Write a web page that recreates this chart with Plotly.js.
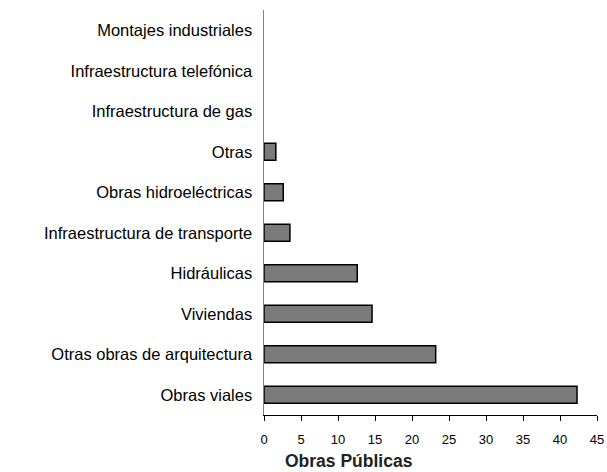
<!DOCTYPE html>
<html>
<head>
<meta charset="utf-8">
<script src="https://cdn.plot.ly/plotly-3.0.1.min.js"></script>
<style>
  body { margin: 0; background: #fff; }
  #myPlot { width: 607px; height: 472px; }
</style>
</head>
<body>
<div id="myPlot"></div>
<script>
// categories, bottom to top
const categories = [
  "Obras viales",
  "Otras obras de arquitectura",
  "Viviendas",
  "Hidráulicas",
  "Infraestructura de transporte",
  "Obras hidroeléctricas",
  "Otras",
  "Infraestructura de gas",
  "Infraestructura telefónica",
  "Montajes industriales"
];
const values = [42.3, 23.2, 14.6, 12.6, 3.5, 2.6, 1.6, 0, 0, 0];
const xTicks = [0, 5, 10, 15, 20, 25, 30, 35, 40, 45];

// no outline on empty bars
const outlineWidths = values.map(v => v > 0 ? 1.5 : 0);

const data = [{
  type: "bar",
  orientation: "h",
  x: values,
  y: categories,
  marker: {color: "#7b7b7b", line: {color: "#000", width: outlineWidths}},
  hoverinfo: "none"
}];

const layout = {
  width: 607,
  height: 472,
  margin: {l: 264, r: 10, t: 10, b: 57},
  paper_bgcolor: "#fff",
  plot_bgcolor: "#fff",
  showlegend: false,
  bargap: 0.58,
  font: {family: "Liberation Sans, Arial, sans-serif", color: "#000"},
  xaxis: {
    range: [0, 45],
    tickvals: xTicks,
    ticks: "outside",
    ticklen: 5,
    tickcolor: "#000",
    tickfont: {size: 13, color: "#000"},
    ticklabelstandoff: 7,
    showgrid: false,
    zeroline: false,
    showline: true,
    linecolor: "#000",
    linewidth: 1
  },
  yaxis: {
    type: "category",
    categoryorder: "array",
    categoryarray: categories,
    tickfont: {size: 16.5, color: "#000"},
    ticks: "",
    ticklabelstandoff: 7,
    showgrid: false,
    zeroline: false,
    showline: true,
    linecolor: "#808080",
    linewidth: 1.5
  },
  annotations: [{
    text: "<b>Obras Públicas</b>",
    xref: "paper", yref: "paper",
    x: 0.255, y: -0.114,
    xanchor: "center", yanchor: "middle",
    showarrow: false,
    font: {size: 17.5, color: "#222"}
  }]
};

Plotly.newPlot("myPlot", data, layout, {displayModeBar: false, staticPlot: true});
</script>
</body>
</html>
